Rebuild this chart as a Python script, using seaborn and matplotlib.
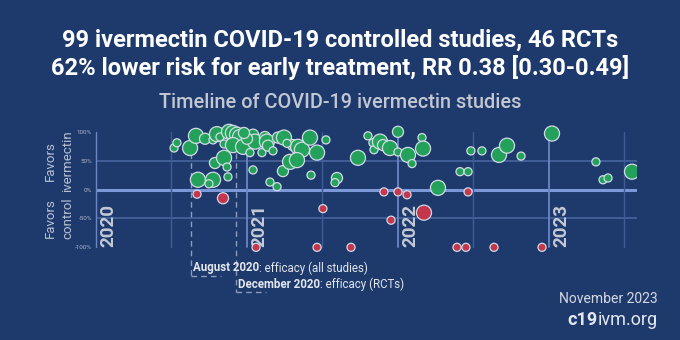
import matplotlib
matplotlib.use("Agg")
import matplotlib.pyplot as plt
import seaborn as sns
import pandas as pd
import numpy as np

# ---- data ----
# date as fractional year, efficacy in %, size class (1 small, 2 medium, 3 large)
green_dates = [2020.517, 2020.536, 2020.623, 2020.662, 2020.722, 2020.775, 2020.801, 2020.821,
               2020.848, 2020.881, 2020.907, 2020.934, 2020.954, 2020.907, 2020.974, 2021.020,
               2021.040, 2021.053, 2021.099, 2021.119, 2021.132, 2021.139, 2021.172, 2021.205,
               2021.245, 2021.305, 2021.338, 2021.364, 2021.417, 2021.464, 2021.523, 2020.788,
               2020.848, 2020.868, 2020.675, 2020.775, 2020.748, 2020.874, 2021.040, 2021.152,
               2021.199, 2021.238, 2021.285, 2021.331, 2021.424, 2021.596, 2021.583, 2021.735,
               2021.801, 2021.834, 2021.841, 2021.881, 2021.901, 2021.947, 2022.000, 2022.000,
               2022.066, 2022.093, 2022.159, 2022.166, 2022.265, 2022.411, 2022.464, 2022.483,
               2022.556, 2022.669, 2022.722, 2022.815, 2023.020, 2023.311, 2023.358, 2023.391,
               2023.550, 2021.000, 2021.265, 2020.980]
green_eff = [72, 81, 72, 93, 88, 86, 96, 91,
             79, 100, 98, 95, 91, 77, 74, 64,
             95, 83, 64, 91, 83, 76, 67, 90,
             90, 77, 74, 69, 90, 64, 86, 46,
             55, 39, 17, 17, 10, 22, 34, 13,
             5, 32, 48, 51, 25, 20, 12, 55,
             93, 81, 69, 83, 77, 72, 100, 65,
             60, 45, 90, 71, 3, 31, 31, 67,
             67, 60, 76, 58, 97, 48, 17, 20,
             31, 88, 80, 98]
green_size = [1, 1, 3, 3, 2, 1, 3, 1,
              1, 3, 3, 3, 3, 3, 3, 1,
              2, 3, 1, 2, 3, 2, 1, 2,
              3, 2, 3, 3, 3, 3, 1, 2,
              3, 1, 3, 3, 1, 1, 1, 1,
              1, 2, 3, 3, 1, 2, 1, 3,
              1, 1, 1, 3, 2, 3, 2, 1,
              3, 1, 1, 3, 3, 1, 1, 1,
              1, 3, 3, 1, 3, 1, 1, 1,
              3, 2, 1, 2]

red_dates = [2020.669, 2020.841, 2021.503, 2021.060, 2021.464, 2021.907, 2022.000, 2022.060,
             2022.464, 2022.172, 2021.954, 2021.689, 2022.391, 2022.450, 2022.636, 2022.954]
red_eff = [-8, -15, -33, -100, -100, -4, -4, -9,
           -4, -40, -53, -100, -100, -100, -100, -100]
red_size = [1, 2, 1, 1, 1, 1, 1, 1,
            1, 3, 1, 1, 1, 1, 1, 1]

year_labels = [2020, 2021, 2022, 2023]
ytick_vals = [100, 50, 0, -50, -100]
ytick_labels = ["100%", "50%", "0%", "-50%", "-100%"]
aug_2020 = 2020.63
dec_2020 = 2020.925

title_lines = ["99 ivermectin COVID-19 controlled studies, 46 RCTs",
               "62% lower risk for early treatment, RR 0.38 [0.30-0.49]"]
subtitle = "Timeline of COVID-19 ivermectin studies"

# ---- styling ----
BG = "#1e3a6c"
GREEN = "#24a55a"
RED = "#c9364a"
FONT = ["Roboto", "DejaVu Sans"]

df = pd.DataFrame({
    "date": green_dates + red_dates,
    "efficacy": green_eff + red_eff,
    "weight": green_size + red_size,
    "favors": ["ivermectin"] * len(green_dates) + ["control"] * len(red_dates),
})

sns.set_theme(style="white")
plt.rcParams["font.family"] = FONT

W, H = 680, 340
fig = plt.figure(figsize=(6.8, 3.4), dpi=100, facecolor=BG)

# axes box in pixel terms
left_px, right_px, top_px, bot_px = 96, 637, 122, 256
ax = fig.add_axes([left_px / W, 1 - bot_px / H, (right_px - left_px) / W, (bot_px - top_px) / H])
ax.set_facecolor(BG)
ax.set_xlim(2020.0, 2023.583)
ax.set_ylim(-115, 117)

# grid
for v in [50, -50]:
    ax.axhline(v, color="#48659f", lw=1.2, zorder=1)
ax.axhline(0, color="#7d98d8", lw=2.2, zorder=1)
for xv in np.arange(2020.5, 2023.6, 0.5):
    is_year = abs(xv - round(xv)) < 1e-6
    ax.plot([xv, xv], [-100, 100], color="#6c86c2" if is_year else "#3e5b95",
            lw=1.3 if is_year else 1.0, zorder=1)
ax.plot([2020.0, 2020.0], [-100, 100], color="#6c86c2", lw=1.0, zorder=1, clip_on=False)

# dashed milestone lines (vertical drop + short underline below the label start)
for xv, yb in [(aug_2020, -150), (dec_2020, -177)]:
    ax.plot([xv, xv], [63, yb], color="#8d9cbc", lw=1.0, ls=(0, (4, 3)), zorder=1, clip_on=False)
    ax.plot([xv, xv + 0.2], [yb, yb], color="#8d9cbc", lw=1.0, ls=(0, (4, 3)), zorder=1, clip_on=False)

sns.scatterplot(data=df, x="date", y="efficacy", hue="favors",
                palette={"ivermectin": GREEN, "control": RED},
                size="weight", sizes={1: 34, 2: 64, 3: 118},
                edgecolor="#d6deea", linewidth=0.9, alpha=0.97,
                legend=False, ax=ax, zorder=3)

for sp in ax.spines.values():
    sp.set_visible(False)
ax.set_xticks([])
ax.set_yticks(ytick_vals)
ax.set_yticklabels(ytick_labels, fontsize=4.5, color="#aeb6c8")
ax.tick_params(axis="y", length=0, pad=3)
ax.set_xlabel("")
ax.set_ylabel("")

for yr in year_labels:
    ax.text(yr + 0.022, -100, str(yr), rotation=90, ha="left", va="bottom",
            fontsize=13.5, fontweight="bold", color="#c3c9d6", zorder=2)

# side labels
fig.text(50 / W, 1 - 161 / H, "Favors", rotation=90, ha="center", va="center", fontsize=9.5, color="#b9c1d2")
fig.text(68 / W, 1 - 161 / H, "ivermectin", rotation=90, ha="center", va="center", fontsize=9.5, color="#b9c1d2")
fig.text(50 / W, 1 - 218 / H, "Favors", rotation=90, ha="center", va="center", fontsize=9.5, color="#b9c1d2")
fig.text(68 / W, 1 - 218 / H, "control", rotation=90, ha="center", va="center", fontsize=9.5, color="#b9c1d2")

# titles
fig.text(0.5, 1 - 40 / H, title_lines[0], ha="center", va="center", fontsize=17,
         fontweight="bold", color="white")
fig.text(0.5, 1 - 67 / H, title_lines[1], ha="center", va="center", fontsize=17,
         fontweight="bold", color="white")
fig.text(0.5, 1 - 103 / H, subtitle, ha="center", va="center", fontsize=14.3,
         fontweight="medium", color="#c2c7d2")

renderer = fig.canvas.get_renderer()

def two_part(x_px, y_px, bold, rest, size, color, align_right=False):
    t1 = fig.text(x_px / W, 1 - y_px / H, bold, ha="left", va="center", fontsize=size,
                  fontweight="bold", color=color)
    bb = t1.get_window_extent(renderer)
    t2 = fig.text(bb.x1 / W, 1 - y_px / H, rest, ha="left", va="center", fontsize=size,
                  color=color)
    if align_right:
        bb2 = t2.get_window_extent(renderer)
        shift = (x_px - bb2.x1) / W
        t1.set_x(t1.get_position()[0] + shift)
        t2.set_x(t2.get_position()[0] + shift)

two_part(193, 268, "August 2020", ": efficacy (all studies)", 8.3, "#e2e6ee")
two_part(238, 284, "December 2020", ": efficacy (RCTs)", 8.3, "#e2e6ee")

fig.text(658 / W, 1 - 299 / H, "November 2023", ha="right", va="center", fontsize=10, color="#d4d9e3")
two_part(658, 320, "c19", "ivm.org", 13, "#e4e8f0", align_right=True)

fig.savefig("out.png", dpi=100, facecolor=BG)
